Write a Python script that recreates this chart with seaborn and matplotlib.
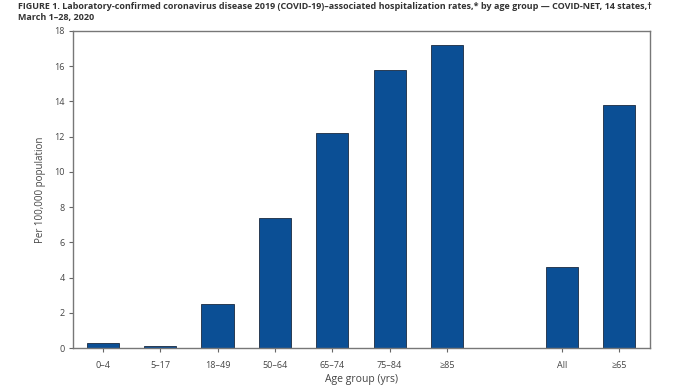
import pandas as pd
import matplotlib
matplotlib.use("Agg")
import matplotlib.pyplot as plt
import seaborn as sns

sns.set_theme(style="white")
plt.rcParams['font.family'] = ['Open Sans', 'DejaVu Sans']

# categories, with an empty slot between the age bands and the summary bars
age_groups = ["0\u20134", "5\u201317", "18\u201349", "50\u201364", "65\u201374", "75\u201384", "\u226585", " ", "All", "\u226565"]
rates = [0.3, 0.1, 2.5, 7.4, 12.2, 15.8, 17.2, None, 4.6, 13.8]
y_ticks = [0, 2, 4, 6, 8, 10, 12, 14, 16, 18]

df = pd.DataFrame({"age": age_groups, "rate": rates}).dropna()

fig = plt.figure(figsize=(6.8, 3.88), dpi=100)
ax = fig.add_axes([73 / 680, 1 - 348 / 388, 577 / 680, 317 / 388])

sns.barplot(data=df, x="age", y="rate", order=age_groups, color="#0b4f95",
            width=0.56, edgecolor="#1a2a40", linewidth=0.6, saturation=1, ax=ax)

ax.set_ylim(0, 18)
ax.set_xlim(-0.52, 9.54)
ax.set_yticks(y_ticks)
ax.set_yticklabels([str(t) for t in y_ticks], fontsize=6.5, color="#444444")
keep = [i for i, a in enumerate(age_groups) if a.strip()]
ax.set_xticks(keep)
ax.set_xticklabels([age_groups[i] for i in keep], fontsize=6.5, color="#444444")
ax.tick_params(axis="both", direction="out", length=3, width=0.8, color="#666666", pad=3)
ax.tick_params(axis="x", pad=6)
ax.tick_params(left=True, bottom=True)
for s in ax.spines.values():
    s.set_color("#777777")
    s.set_linewidth(1.0)

ax.set_xlabel("Age group (yrs)", fontsize=7.5, color="#444444", labelpad=3)
ax.set_ylabel("Per 100,000 population", fontsize=7, color="#444444", labelpad=6)

fig.text(18 / 680, 1 - 9 / 388,
         "FIGURE 1. Laboratory-confirmed coronavirus disease 2019 (COVID-19)\u2013associated hospitalization rates,* by age group \u2014 COVID-NET, 14 states,\u2020",
         fontsize=6.5, fontweight="bold", color="#333333", va="baseline")
fig.text(18 / 680, 1 - 20 / 388, "March 1\u201328, 2020",
         fontsize=6.5, fontweight="bold", color="#333333", va="baseline")

fig.savefig("out.png", dpi=100)
